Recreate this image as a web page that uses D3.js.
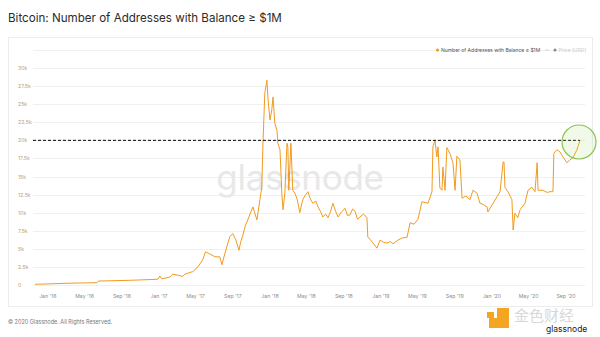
<!DOCTYPE html>
<html>
<head>
<meta charset="utf-8">
<script src="https://cdn.jsdelivr.net/npm/d3@7"></script>
<style>
  html, body { margin: 0; padding: 0; background: #ffffff; }
  svg { display: block; font-family: Inter, "Noto Sans", sans-serif; }
</style>
</head>
<body>
<svg id="chart" width="600" height="337"></svg>
<script>
const title = "Bitcoin: Number of Addresses with Balance \u2265 $1M";
const seriesName = "Number of Addresses with Balance \u2265 $1M";
const priceName = "Price [USD]";
const footer = "\u00a9 2020 Glassnode. All Rights Reserved.";

const dates = [
  "2015-11-20","2016-01-01","2016-03-13","2016-05-18","2016-06-10","2016-06-17","2016-07-23","2016-09-27",
  "2016-12-02","2016-12-28","2017-01-04","2017-01-10","2017-02-06","2017-02-15","2017-03-04","2017-03-20",
  "2017-03-27","2017-04-22","2017-05-09","2017-05-25","2017-06-03","2017-06-17","2017-07-04","2017-07-20","2017-07-27",
  "2017-08-06","2017-08-22","2017-09-01","2017-09-11","2017-09-21","2017-09-27","2017-10-04","2017-10-12","2017-10-20",
  "2017-11-06","2017-11-19","2017-11-29","2017-12-05","2017-12-09","2017-12-15","2017-12-22","2017-12-25",
  "2018-01-01","2018-01-07","2018-01-11","2018-01-17","2018-01-24","2018-01-27","2018-02-03","2018-02-09",
  "2018-02-13","2018-02-19","2018-02-26","2018-03-01","2018-03-04","2018-03-11","2018-03-17","2018-03-24",
  "2018-04-01","2018-04-09","2018-04-19","2018-04-27","2018-05-06","2018-05-14","2018-05-22","2018-06-01","2018-06-08","2018-06-16","2018-06-24",
  "2018-07-03","2018-07-11","2018-07-19","2018-07-27","2018-08-05","2018-08-13","2018-08-24","2018-09-05","2018-09-13","2018-09-21",
  "2018-09-30","2018-10-08","2018-10-16","2018-10-24","2018-11-05","2018-11-16","2018-11-19","2018-11-27","2018-12-06",
  "2018-12-19","2018-12-29","2019-01-10","2019-01-21","2019-02-01","2019-02-10","2019-02-26","2019-03-12","2019-03-28","2019-04-07","2019-04-20","2019-05-03",
  "2019-05-16","2019-06-05","2019-06-18","2019-06-21","2019-06-28","2019-07-04","2019-07-08","2019-07-14",
  "2019-07-21","2019-07-24","2019-07-31","2019-08-06","2019-08-16","2019-08-26","2019-09-02","2019-09-08",
  "2019-09-18","2019-09-25","2019-10-08","2019-10-21","2019-10-31","2019-11-13","2019-11-23","2019-12-05","2019-12-16","2019-12-19",
  "2020-01-05","2020-01-18","2020-01-28","2020-02-07","2020-02-10","2020-02-13","2020-02-23","2020-03-07",
  "2020-03-11","2020-03-17","2020-03-26","2020-04-03","2020-04-19","2020-04-29","2020-05-12","2020-05-22","2020-05-29",
  "2020-06-01","2020-06-17","2020-07-01","2020-07-10","2020-07-20","2020-07-23","2020-08-02","2020-08-12","2020-08-22",
  "2020-09-04","2020-09-14","2020-09-24","2020-10-07","2020-10-17"
];
const addresses = [
  100,150,250,300,320,550,580,650,
  750,800,1250,850,1100,1500,1350,1200,
  1500,1850,2500,3500,4600,4300,3900,3900,2800,
  4400,6700,7100,6200,4800,6000,6900,8200,9000,
  10800,9000,11800,13500,19600,26500,28300,26000,
  22800,24200,26000,22400,21400,19600,18700,12700,
  10400,12700,19600,19000,13100,19600,13100,12700,
  11800,10000,11800,12400,12900,11900,11300,11600,10800,10200,9400,
  9800,9300,10100,11300,10200,9400,10100,10600,9600,9700,
  10500,10200,9100,9400,9800,9300,6600,6300,5800,
  5100,6200,5900,5800,6000,5700,6200,6500,6600,8600,8400,9100,
  11500,11300,12900,19100,20000,17700,19100,13400,
  13100,16300,13100,19000,18200,16900,13100,17800,
  17300,12000,12300,11800,13100,12700,11300,11100,10800,10100,
  11300,12200,12900,17000,17000,13500,12900,11800,
  7600,9900,9300,10400,11300,13100,13500,12900,16900,
  13100,13100,12800,12900,12900,18200,18700,18400,17700,
  16900,17300,17600,18700,20000
];
const yTicks = [0,2500,5000,7500,10000,12500,15000,17500,20000,22500,25000,27500,30000];
const yTickLabels = ["0","2.5k","5k","7.5k","10k","12.5k","15k","17.5k","20k","22.5k","25k","27.5k","30k"];
const xTicks = ["2016-01-01","2016-05-01","2016-09-01","2017-01-01","2017-05-01","2017-09-01","2018-01-01",
  "2018-05-01","2018-09-01","2019-01-01","2019-05-01","2019-09-01","2020-01-01","2020-05-01","2020-09-01"];
const xTickLabels = ["Jan '16","May '16","Sep '16","Jan '17","May '17","Sep '17","Jan '18",
  "May '18","Sep '18","Jan '19","May '19","Sep '19","Jan '20","May '20","Sep '20"];
const thresholdValue = 20000;

const parse = d3.utcParse("%Y-%m-%d");
const data = dates.map((d, i) => ({ date: parse(d), value: addresses[i] }));

const svg = d3.select("#chart");

// card
svg.append("rect").attr("x", 8.5).attr("y", 37.5).attr("width", 584).attr("height", 269)
  .attr("fill", "#fff").attr("stroke", "#ececec").attr("stroke-width", 1);

// title
svg.append("text").attr("x", 8).attr("y", 22).attr("font-size", 11.6).attr("fill", "#2b2b2b")
  .text(title);

const x = d3.scaleUtc().domain([parse("2015-11-20"), parse("2020-10-17")]).range([35, 580]);
const y = d3.scaleLinear().domain([0, 30000]).range([285, 68]);
const gridLeft = 33, gridRight = 585;

// gridlines
const gridVals = yTicks.concat([32500]);
svg.append("g").selectAll("line").data(gridVals).join("line")
  .attr("x1", gridLeft).attr("x2", gridRight)
  .attr("y1", d => Math.round(y(d)) + 0.5).attr("y2", d => Math.round(y(d)) + 0.5)
  .attr("stroke", "#f0f0f0").attr("stroke-width", 1);

// y labels
svg.append("g").selectAll("text").data(yTicks).join("text")
  .attr("x", 18).attr("y", d => y(d) + 2)
  .attr("font-size", 5.2).attr("fill", "#b8a07a")
  .text((d, i) => yTickLabels[i]);

// x labels
svg.append("g").selectAll("text").data(xTicks).join("text")
  .attr("x", d => x(parse(d))).attr("y", 298)
  .attr("text-anchor", "middle").attr("font-size", 5.2).attr("fill", "#8a8a8a")
  .text((d, i) => xTickLabels[i]);

// watermark
svg.append("text").attr("x", 300).attr("y", 190).attr("text-anchor", "middle")
  .attr("font-size", 35).attr("fill", "#e8e8e8").attr("letter-spacing", -0.3)
  .text("glassnode");

// line
const line = d3.line().x(d => x(d.date)).y(d => y(d.value));
svg.append("path").datum(data).attr("d", line)
  .attr("fill", "none").attr("stroke", "#f29a1f").attr("stroke-width", 1)
  .attr("stroke-linejoin", "round");

// threshold dashed line
svg.append("line").attr("x1", gridLeft).attr("x2", x(parse("2020-10-17")))
  .attr("y1", y(thresholdValue)).attr("y2", y(thresholdValue))
  .attr("stroke", "#000").attr("stroke-width", 1).attr("stroke-dasharray", "3,2");

// highlight circle
svg.append("circle").attr("cx", 579).attr("cy", 142).attr("r", 17)
  .attr("fill", "rgba(180,220,130,0.18)").attr("stroke", "#8cc152").attr("stroke-width", 1.2);

// legend
svg.append("circle").attr("cx", 437.5).attr("cy", 50).attr("r", 1.6).attr("fill", "#f29a1f");
svg.append("text").attr("x", 441).attr("y", 51.8).attr("font-size", 5).attr("fill", "#555")
  .text(seriesName);
svg.append("line").attr("x1", 545).attr("x2", 549).attr("y1", 50).attr("y2", 50)
  .attr("stroke", "#ccc").attr("stroke-width", 0.7);
svg.append("circle").attr("cx", 555).attr("cy", 50).attr("r", 1.5).attr("fill", "#888");
svg.append("text").attr("x", 558.5).attr("y", 51.8).attr("font-size", 5).attr("fill", "#ccc")
  .text(priceName);

// footer
svg.append("text").attr("x", 8).attr("y", 324).attr("font-size", 5.5).attr("fill", "#777")
  .text(footer);

// bottom-right logo
const logo = svg.append("g");
logo.append("path").attr("d", "M497,308 h12 v20 h-20 v-10 h8 z").attr("fill", "#f4a521");
logo.append("rect").attr("x", 487).attr("y", 312).attr("width", 7).attr("height", 6).attr("fill", "#f4a521");
logo.append("text").attr("x", 514).attr("y", 321).attr("font-size", 15)
  .attr("font-family", "'Noto Sans CJK SC', sans-serif").attr("fill", "#d8d8d8").text("金色财经");
logo.append("text").attr("x", 546).attr("y", 332).attr("font-size", 8.5).attr("fill", "#222")
  .text("glassnode");
</script>
</body>
</html>
